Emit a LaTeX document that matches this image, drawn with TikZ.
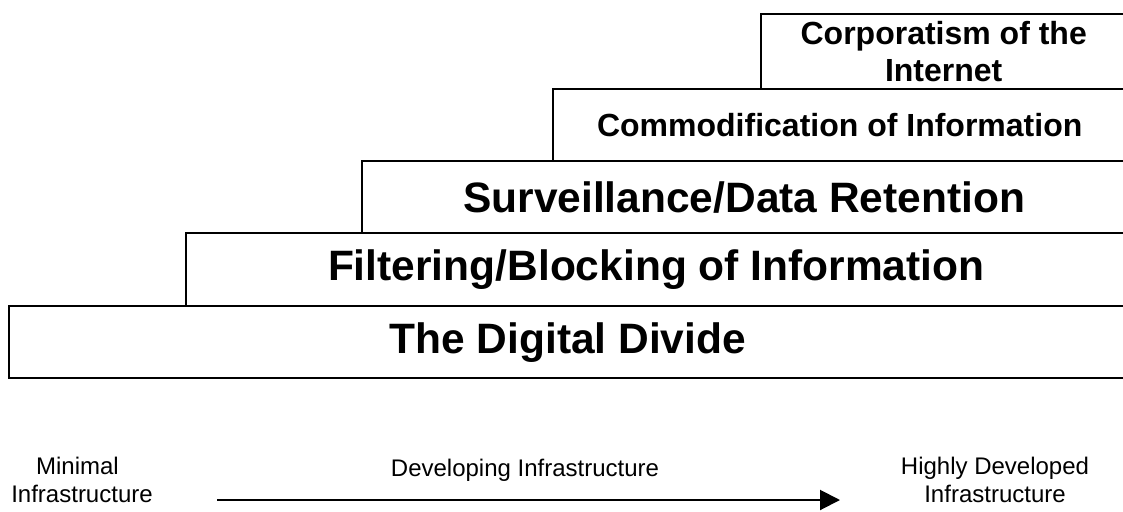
\documentclass[tikz,border=0pt]{standalone}
\usepackage{fontspec}
\setmainfont{Liberation Sans}
\usetikzlibrary{arrows.meta}
\tikzset{
  tier/.style={draw=none, inner sep=0pt, anchor=north west, align=center,
    font=\bfseries\fontsize{42.5}{49}\selectfont},
  tiersmall/.style={tier, font=\bfseries\fontsize{32}{36.8}\selectfont},
  edge/.style={line width=2pt, line join=miter, line cap=rect},
  scalelabel/.style={inner sep=0pt, align=center, font=\fontsize{24}{27.5}\selectfont},
  axis/.style={line width=2pt, -{Triangle[length=20pt,width=20pt]}},
}
\begin{document}
\begin{tikzpicture}[x=1pt,y=-1pt]
\useasboundingbox (0,0) rectangle (1123,511);
% tiers
\node[tier, minimum width=1117pt, minimum height=72pt] (b1) at (9,306) {The Digital Divide};
\node[tier, minimum width=940pt, minimum height=73pt] (b2) at (186,233) {Filtering/Blocking of Information};
\node[tier, minimum width=764pt, minimum height=72pt] (b3) at (362,161) {Surveillance/Data Retention};
\node[tiersmall, minimum width=573pt, minimum height=72pt] (b4) at (553,89) {Commodification of Information};
\node[tiersmall, minimum width=365pt, minimum height=75pt] (b5) at (761,14) {Corporatism of the\\Internet};
\foreach \b in {b1,b2,b3,b4,b5}{
  \draw[edge] (\b.north east) -- (\b.north west) -- (\b.south west) -- (\b.south east);
}
% scale
\node[scalelabel] (minl) at (82,480) {Minimal\hspace*{9pt}\\Infrastructure};
\node[scalelabel, anchor=base] (devl) at (525,476) {Developing Infrastructure};
\node[scalelabel] (highl) at (995,480) {Highly Developed\\Infrastructure};
\coordinate (as) at (217,500);
\coordinate (ae) at (840,500);
\draw[axis] (as) -- (ae);
\end{tikzpicture}
\end{document}
